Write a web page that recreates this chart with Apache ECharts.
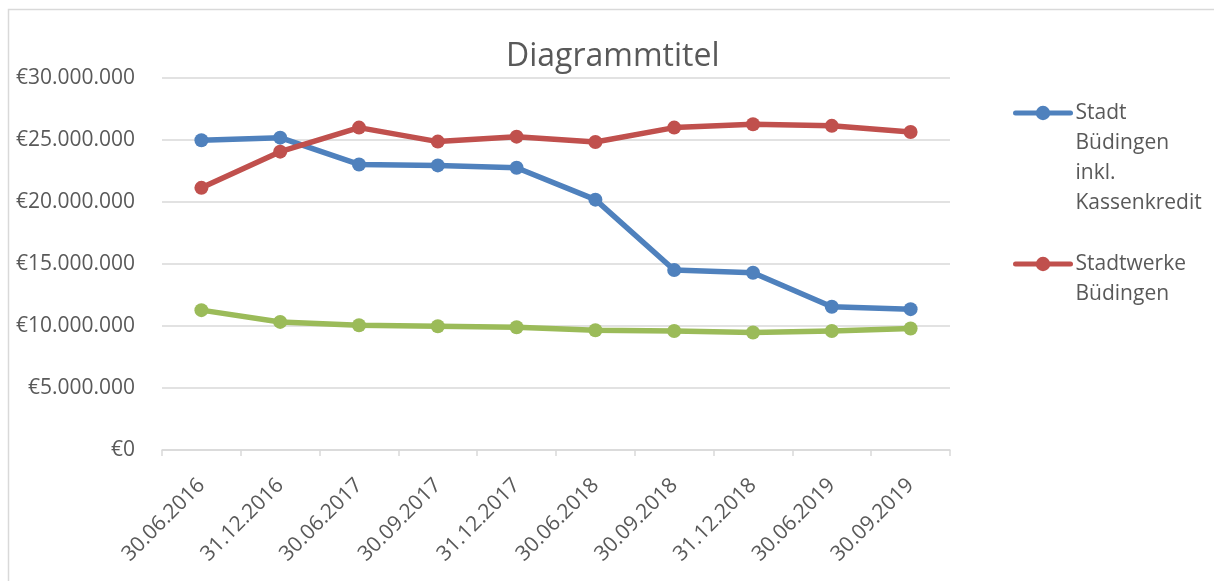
<!DOCTYPE html>
<html>
<head>
<meta charset="utf-8">
<script src="https://cdn.jsdelivr.net/npm/echarts@6/dist/echarts.min.js"></script>
<style>
  html, body { margin: 0; padding: 0; background: #fff; }
  #chart { width: 1214px; height: 581px; }
</style>
</head>
<body>
<div id="chart"></div>
<script>
// Stichtage (x-Achse)
const dates = ['30.06.2016', '31.12.2016', '30.06.2017', '30.09.2017', '31.12.2017',
  '30.06.2018', '30.09.2018', '31.12.2018', '30.06.2019', '30.09.2019']

// Werte in Euro
const stadt = [24980000, 25190000, 23030000, 22950000, 22760000,
  20190000, 14520000, 14300000, 11550000, 11360000]
const stadtwerke = [21140000, 24060000, 26000000, 24870000, 25270000,
  24840000, 26000000, 26270000, 26140000, 25650000]
const reihe3 = [11280000, 10330000, 10060000, 9980000, 9900000,
  9660000, 9600000, 9470000, 9600000, 9800000]

const yTicks = { min: 0, max: 30000000, interval: 5000000 }

const FONT = 'Open Sans'
const GREY = '#595959'
const GRID = '#d9d9d9'

// Tausenderpunkte wie im Original
function euro (v) {
  return '€' + String(v).replace(/\B(?=(\d{3})+(?!\d))/g, '.')
}

function lineSeries (name, data, color) {
  return {
    name: name,
    type: 'line',
    data: data,
    symbol: 'circle',
    symbolSize: 14,
    showAllSymbol: true,
    itemStyle: { color: color },
    lineStyle: { color: color, width: 5.5, cap: 'round', join: 'round' },
    emphasis: { disabled: true }
  }
}

// gemeinsame Legenden-Einstellungen
function legendBox (name, text, top) {
  return {
    data: [name],
    left: 1008,
    top: top,
    itemWidth: 55,
    itemHeight: 18,
    lineStyle: { width: 5 },
    formatter: () => text,
    textStyle: { fontFamily: FONT, fontSize: 21, color: GREY, lineHeight: 30 }
  }
}

const chart = echarts.init(document.getElementById('chart'))

chart.setOption({
  animation: false,
  backgroundColor: '#fff',
  textStyle: { fontFamily: FONT },
  title: {
    text: 'Diagrammtitel',
    left: 501,
    top: 36,
    textStyle: { fontFamily: FONT, fontSize: 32, fontWeight: 'normal', color: GREY }
  },
  // zwei Legenden, damit die mehrzeiligen Texte oben am Symbol beginnen
  legend: [
    legendBox('Stadt Büdingen inkl. Kassenkredit', '\n\n\nStadt\nBüdingen\ninkl.\nKassenkredit', 3),
    legendBox('Stadtwerke Büdingen', '\nStadtwerke\nBüdingen', 214)
  ],
  grid: { left: 162, right: 264, top: 78, bottom: 131 },
  xAxis: {
    type: 'category',
    data: dates,
    boundaryGap: true,
    axisLine: { lineStyle: { color: GRID, width: 1.5 } },
    axisTick: { show: true, length: 6, lineStyle: { color: GRID, width: 1.5 } },
    axisLabel: { rotate: 45, margin: 32, fontFamily: FONT, fontSize: 21, color: GREY, interval: 0 },
    splitLine: { show: false }
  },
  yAxis: {
    type: 'value',
    min: yTicks.min,
    max: yTicks.max,
    interval: yTicks.interval,
    axisLine: { show: false },
    axisTick: { show: false },
    axisLabel: { margin: 27, fontFamily: FONT, fontSize: 21, color: GREY, formatter: euro },
    splitLine: { lineStyle: { color: GRID, width: 1.5 } }
  },
  series: [
    lineSeries('Stadt Büdingen inkl. Kassenkredit', stadt, '#4f81bd'),
    lineSeries('Stadtwerke Büdingen', stadtwerke, '#c0504d'),
    lineSeries('Reihe3', reihe3, '#9bbb59')
  ],
  graphic: [
    {
      type: 'rect',
      silent: true,
      z: -10,
      shape: { x: 8.5, y: 9.5, width: 1400, height: 800 },
      style: { fill: 'none', stroke: GRID, lineWidth: 1.5 }
    }
  ]
})
</script>
</body>
</html>
